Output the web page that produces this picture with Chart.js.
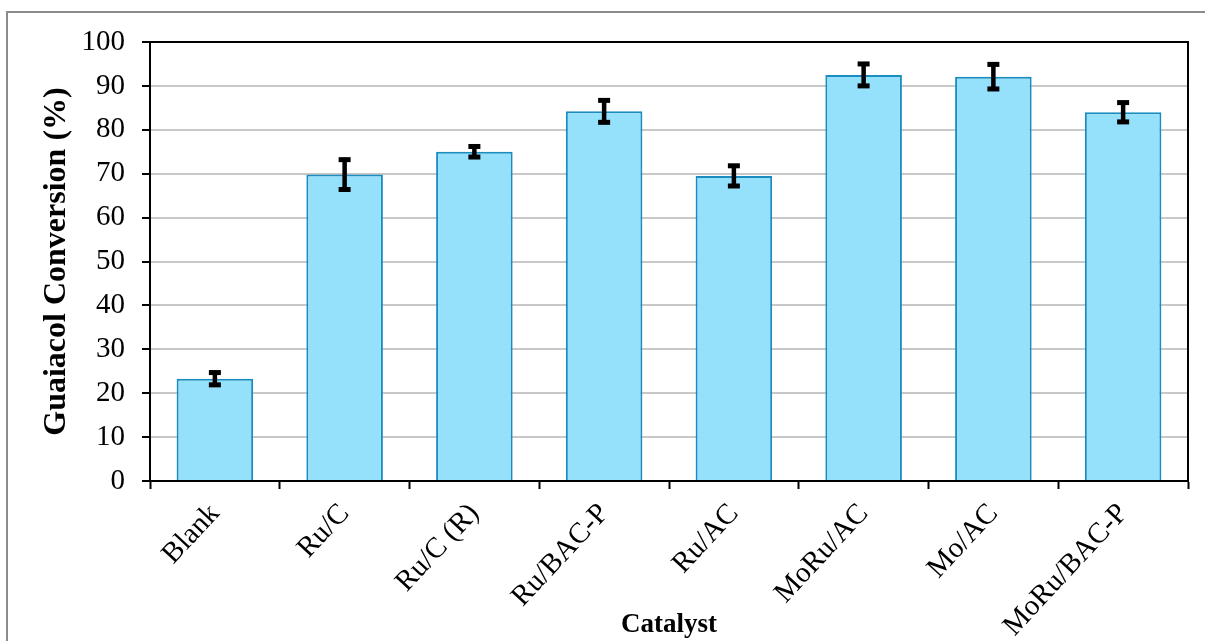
<!DOCTYPE html>
<html>
<head>
<meta charset="utf-8">
<script src="https://cdn.jsdelivr.net/npm/chart.js@4.4.0/dist/chart.umd.min.js"></script>
<style>
  html, body { margin: 0; padding: 0; background: #fff; }
  canvas { display: block; }
</style>
</head>
<body>
<canvas id="convChart" width="1205" height="641"></canvas>
<script>
// catalysts and guaiacol conversion (%) with error (+/-)
const catalysts = ['Blank', 'Ru/C', 'Ru/C (R)', 'Ru/BAC-P', 'Ru/AC', 'MoRu/AC', 'Mo/AC', 'MoRu/BAC-P'];
const conversion = [23.3, 69.8, 75.0, 84.2, 69.5, 92.5, 92.1, 84.0];
const conversionErr = [1.4, 3.4, 1.2, 2.5, 2.3, 2.5, 2.8, 2.2];
const yTicks = [0, 10, 20, 30, 40, 50, 60, 70, 80, 90, 100];

// outer frame + black box around plot area
const framePlugin = {
    id: 'frame',
    beforeDraw(chart) {
        const ctx = chart.ctx;
        ctx.save();
        ctx.fillStyle = '#fff';
        ctx.fillRect(0, 0, chart.width, chart.height);
        ctx.strokeStyle = '#8c8c8c';
        ctx.lineWidth = 2;
        ctx.beginPath();
        ctx.moveTo(7, chart.height);
        ctx.lineTo(7, 12);
        ctx.lineTo(chart.width, 12);
        ctx.stroke();
        ctx.restore();
    },
    beforeDatasetsDraw(chart) {
        const a = chart.chartArea;
        const ctx = chart.ctx;
        ctx.save();
        ctx.strokeStyle = '#000';
        ctx.lineWidth = 2;
        ctx.strokeRect(a.left, a.top, a.right - a.left, a.bottom - a.top);
        ctx.restore();
    }
};

// error bars drawn through the y scale
const errorBarPlugin = {
    id: 'errorBars',
    afterDatasetsDraw(chart) {
        const ctx = chart.ctx;
        const yScale = chart.scales.y;
        const meta = chart.getDatasetMeta(0);
        ctx.save();
        ctx.fillStyle = '#000';
        ctx.strokeStyle = '#000';
        ctx.lineWidth = 4.5;
        meta.data.forEach((bar, i) => {
            const v = conversion[i];
            const e = conversionErr[i];
            const yTop = yScale.getPixelForValue(v + e);
            const yBot = yScale.getPixelForValue(v - e);
            ctx.beginPath();
            ctx.moveTo(bar.x, yTop);
            ctx.lineTo(bar.x, yBot);
            ctx.stroke();
            ctx.fillRect(bar.x - 6, yTop - 2.5, 12, 5);
            ctx.fillRect(bar.x - 6, yBot - 2.5, 12, 5);
        });
        ctx.restore();
    }
};

Chart.defaults.font.family = '"Liberation Serif", "Times New Roman", serif';
Chart.defaults.color = '#000';

const canvas = document.getElementById('convChart');
new Chart(canvas, {
    type: 'bar',
    data: {
        labels: catalysts,
        datasets: [{
            label: 'Guaiacol Conversion (%)',
            data: conversion,
            backgroundColor: '#95e1fc',
            borderColor: '#1a8cbf',
            borderWidth: 2,
            barPercentage: 0.59,
            categoryPercentage: 1.0
        }]
    },
    options: {
        responsive: false,
        animation: false,
        layout: {
            padding: { left: 0, top: 42, right: 17, bottom: 0 }
        },
        plugins: {
            legend: { display: false },
            tooltip: { enabled: false }
        },
        scales: {
            x: {
                offset: true,
                grid: {
                    offset: true,
                    drawOnChartArea: false,
                    drawTicks: true,
                    tickLength: 8,
                    tickColor: '#000',
                    tickWidth: 2
                },
                border: { color: '#000', width: 2 },
                ticks: {
                    font: { size: 29 },
                    minRotation: 47,
                    maxRotation: 47,
                    padding: 8
                },
                title: {
                    display: true,
                    text: 'Catalyst',
                    font: { size: 27, weight: 'bold' },
                    padding: { top: 0, bottom: 0 }
                },
                afterFit(scale) { scale.height = 160; }
            },
            y: {
                min: 0,
                max: 100,
                afterBuildTicks(scale) { scale.ticks = yTicks.map(v => ({ value: v })); },
                grid: {
                    color: '#c8c8c8',
                    lineWidth: 2,
                    tickLength: 8,
                    tickColor: '#000',
                    tickWidth: 2
                },
                border: { color: '#000', width: 2 },
                ticks: {
                    font: { size: 29 },
                    padding: 17
                },
                title: {
                    display: true,
                    text: 'Guaiacol Conversion (%)',
                    font: { size: 32, weight: 'bold' },
                    padding: { top: 38, bottom: 0 }
                },
                afterFit(scale) { scale.width = 150; }
            }
        }
    },
    plugins: [framePlugin, errorBarPlugin]
});
</script>
</body>
</html>
